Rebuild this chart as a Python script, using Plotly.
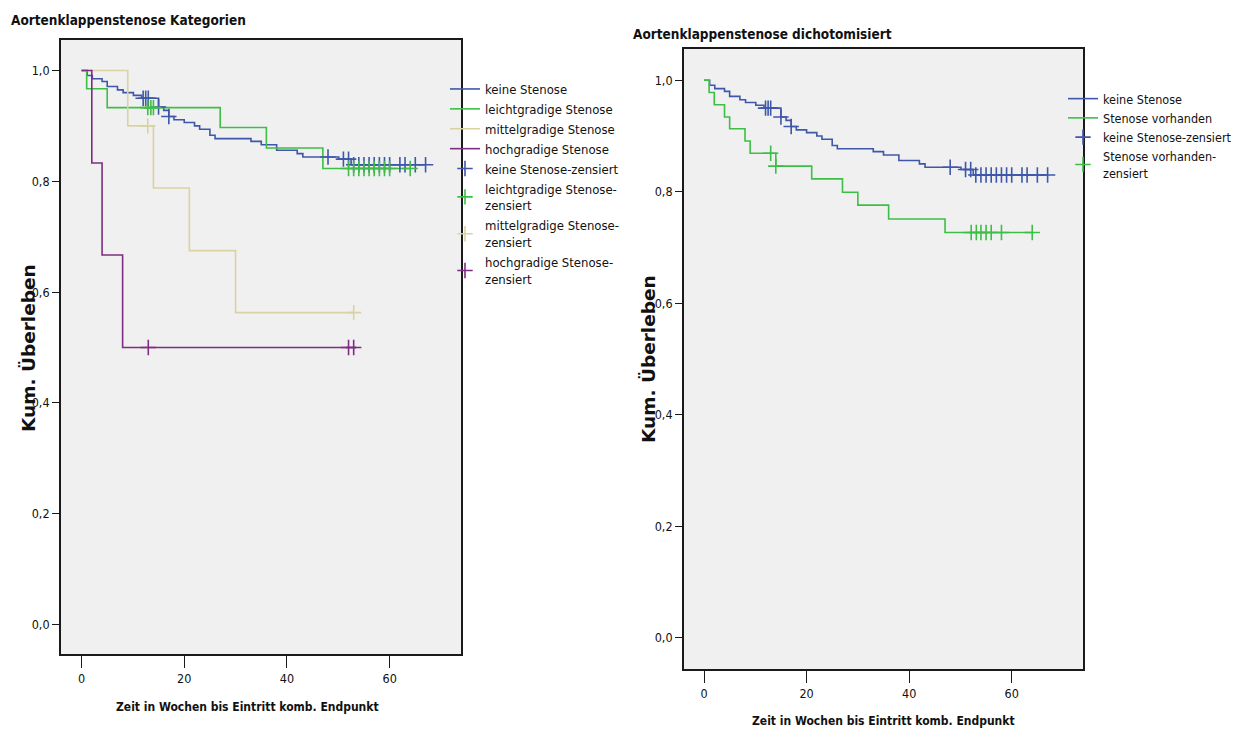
import plotly.graph_objects as go

# ---------------- data ----------------
# Left: Aortenklappenstenose Kategorien
keine_t = [0, 1.1, 2.1, 4.0, 5.0, 7.0, 8.1, 10.1, 11.7, 15.0, 16.0, 17.0, 18.0, 20.0,
           22.0, 23.0, 25.0, 26.0, 33.0, 35.0, 38.0, 42.0, 43.1, 50.1, 52.5]
keine_s = [1.0, 0.991, 0.985, 0.980, 0.971, 0.965, 0.960, 0.955, 0.950, 0.934, 0.928,
           0.917, 0.911, 0.906, 0.900, 0.894, 0.883, 0.877, 0.872, 0.866, 0.856, 0.850,
           0.844, 0.840, 0.830]
keine_end = 67.0
keine_cens = [12.0, 12.5, 13.0, 15.0, 17.0, 48.0, 51.0, 52.0, 53.0, 54.0, 55.0, 56.0,
              57.0, 58.0, 59.0, 60.0, 62.0, 63.0, 65.0, 67.0]

leicht_t = [0, 1.0, 5.0, 27.0, 36.0, 47.0]
leicht_s = [1.0, 0.967, 0.933, 0.897, 0.860, 0.823]
leicht_end = 64.0
leicht_cens = [12.9, 13.5, 14.0, 52.0, 53.0, 54.0, 55.0, 56.0, 57.0, 58.0, 59.0, 60.0, 64.0]

mittel_t = [0, 9.0, 14.0, 21.0, 30.0]
mittel_s = [1.0, 0.900, 0.788, 0.675, 0.563]
mittel_end = 53.0
mittel_cens = [12.9, 53.0]

hoch_t = [0, 2.0, 4.0, 8.0]
hoch_s = [1.0, 0.833, 0.667, 0.500]
hoch_end = 53.5
hoch_cens = [13.0, 52.0, 53.0]

# Right: Aortenklappenstenose dichotomisiert
vorh_t = [0, 1.0, 2.0, 4.0, 5.0, 8.0, 9.0, 14.0, 21.0, 27.0, 30.0, 36.0, 47.0]
vorh_s = [1.0, 0.978, 0.956, 0.934, 0.913, 0.891, 0.869, 0.846, 0.823, 0.799, 0.776,
          0.751, 0.727]
vorh_end = 64.0
vorh_cens = [13.0, 14.0, 52.1, 53.1, 54.0, 55.0, 56.0, 58.0, 64.0]

x_ticks = [0, 20, 40, 60]
y_ticks = [0.0, 0.2, 0.4, 0.6, 0.8, 1.0]

left_series = [
    ("keine Stenose", keine_t, keine_s, keine_end, keine_cens, "keine Stenose-zensiert"),
    ("leichtgradige Stenose", leicht_t, leicht_s, leicht_end, leicht_cens,
     "leichtgradige Stenose-<br>zensiert"),
    ("mittelgradige Stenose", mittel_t, mittel_s, mittel_end, mittel_cens,
     "mittelgradige Stenose-<br>zensiert"),
    ("hochgradige Stenose", hoch_t, hoch_s, hoch_end, hoch_cens,
     "hochgradige Stenose-<br>zensiert"),
]
right_series = [
    ("keine Stenose", keine_t, keine_s, keine_end, keine_cens, "keine Stenose-zensiert"),
    ("Stenose vorhanden", vorh_t, vorh_s, vorh_end, vorh_cens,
     "Stenose vorhanden-<br>zensiert"),
]
left_colors = ["#3F57AA", "#3DBE45", "#D9D3A2", "#7E2E80"]
right_colors = ["#3F57AA", "#3DBE45"]

# ---------------- helpers ----------------
W, H, OFF = 1230, 720, 8
def px_x(p):
    return (p - OFF) / W
def px_y(p):
    return 1 - (p - OFF) / H

def surv_at(ts, ss, t):
    v = ss[0]
    for ti, si in zip(ts, ss):
        if t >= ti:
            v = si
    return v

NARROW = "Liberation Sans Narrow, Arial Narrow, DejaVu Sans Condensed, sans-serif"

fig = go.Figure()

def add_group(series, colors, xa, ya, legend):
    for (name, ts, ss, end, cens, cname), c in zip(series, colors):
        fig.add_trace(go.Scatter(
            x=list(ts) + [end], y=list(ss) + [ss[-1]], mode="lines",
            line=dict(color=c, width=1.6, shape="hv"), name=name,
            xaxis=xa, yaxis=ya, legend=legend, hoverinfo="skip"))
    for (name, ts, ss, end, cens, cname), c in zip(series, colors):
        fig.add_trace(go.Scatter(
            x=cens, y=[surv_at(ts, ss, t) for t in cens], mode="markers",
            marker=dict(symbol="cross-thin", size=11, color=c,
                        line=dict(color=c, width=1.6)),
            name=cname, xaxis=xa, yaxis=ya, legend=legend, hoverinfo="skip"))

add_group(left_series, left_colors, "x", "y", "legend")
add_group(right_series, right_colors, "x2", "y2", "legend2")

axis_common = dict(showline=True, linecolor="#1a1a1a", linewidth=1.8, mirror=True,
                   showgrid=False, zeroline=False, ticks="outside", tickcolor="#1a1a1a",
                   tickfont=dict(family=NARROW, size=12.5, color="#111"))

fig.update_layout(
    width=W, height=H, margin=dict(l=0, r=0, t=0, b=0, autoexpand=False),
    paper_bgcolor="white", plot_bgcolor="#F0F0F0", separators=",.",
    showlegend=True,
    xaxis=dict(domain=[px_x(61), px_x(461)], range=[-4.0, 73.9], anchor="y",
               tickvals=x_ticks, ticklen=12, **axis_common),
    yaxis=dict(domain=[px_y(654), px_y(40)], range=[-0.053, 1.055], anchor="x",
               tickvals=y_ticks, tickformat=".1f", ticklen=7, **axis_common),
    xaxis2=dict(domain=[px_x(684), px_x(1083)], range=[-3.9, 73.9], anchor="y2",
                tickvals=x_ticks, ticklen=12, **axis_common),
    yaxis2=dict(domain=[px_y(669), px_y(49)], range=[-0.056, 1.056], anchor="x2",
                tickvals=y_ticks, tickformat=".1f", ticklen=7, **axis_common),
    legend=dict(x=px_x(445), y=px_y(74), xanchor="left", yanchor="top",
                bgcolor="rgba(0,0,0,0)", font=dict(family=NARROW, size=13, color="#111"),
                tracegroupgap=0, itemwidth=30),
    legend2=dict(x=px_x(1063), y=px_y(84), xanchor="left", yanchor="top",
                 bgcolor="rgba(0,0,0,0)", font=dict(family=NARROW, size=12.5, color="#111"),
                 tracegroupgap=0, itemwidth=30),
)

title_font = dict(family=NARROW, size=13.5, color="#111")
label_font = dict(family=NARROW, size=12, color="#111")
ylab_font = dict(family="DejaVu Sans, sans-serif", size=18.5, color="#111")
ann = [
    dict(text="<b>Aortenklappenstenose Kategorien</b>", x=px_x(9), y=px_y(20),
         xanchor="left", yanchor="middle", font=title_font),
    dict(text="<b>Aortenklappenstenose dichotomisiert</b>", x=px_x(631), y=px_y(34),
         xanchor="left", yanchor="middle", font=title_font),
    dict(text="<b>Zeit in Wochen bis Eintritt komb. Endpunkt</b>", x=px_x(247), y=px_y(707),
         xanchor="center", yanchor="middle", font=label_font),
    dict(text="<b>Zeit in Wochen bis Eintritt komb. Endpunkt</b>", x=px_x(883), y=px_y(721),
         xanchor="center", yanchor="middle", font=label_font),
    dict(text="<b>Kum. Überleben</b>", x=px_x(28), y=px_y(348), textangle=-90,
         xanchor="center", yanchor="middle", font=ylab_font),
    dict(text="<b>Kum. Überleben</b>", x=px_x(648), y=px_y(359), textangle=-90,
         xanchor="center", yanchor="middle", font=ylab_font),
]
for a in ann:
    fig.add_annotation(xref="paper", yref="paper", showarrow=False, **a)

fig.write_html("out.html")
